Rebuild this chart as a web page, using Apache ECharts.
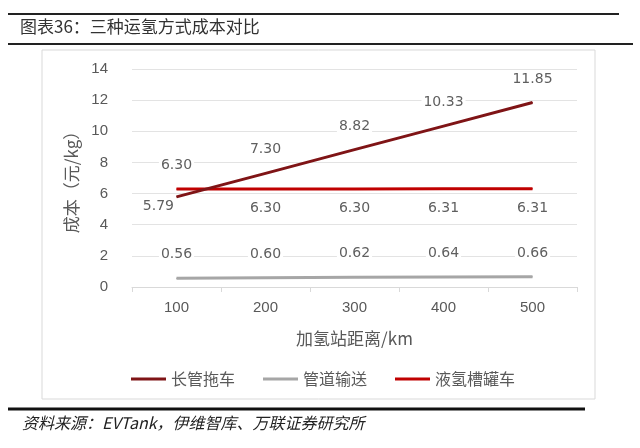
<!DOCTYPE html>
<html><head><meta charset="utf-8">
<script src="https://cdn.jsdelivr.net/npm/echarts@6/dist/echarts.min.js"></script>
<style>html,body{margin:0;padding:0;background:#fff}#c{width:640px;height:448px}</style>
</head><body><div id="c"></div>
<script>
const categories = ['100', '200', '300', '400', '500'];
const tubeTrailer = [5.79, 7.30, 8.82, 10.33, 11.85];
const pipeline = [0.56, 0.60, 0.62, 0.64, 0.66];
const liquidTanker = [6.30, 6.30, 6.30, 6.31, 6.31];
const seriesNames = ['长管拖车', '管道输送', '液氢槽罐车'];

const font = '"Noto Sans CJK SC", sans-serif';
const numFont = '"DejaVu Sans", sans-serif';
const axFont = '"Liberation Sans", Arial, sans-serif';
const lblBase = {show: true, color: '#5f5f5f', fontSize: 14, fontFamily: numFont,
  backgroundColor: '#fff', padding: [0, 2], formatter: p => p.value.toFixed(2)};

const chart = echarts.init(document.getElementById('c'));
chart.setOption({
  animation: false,
  grid: {left: 132, right: 63, top: 69, bottom: 161},
  graphic: [
    {type: 'line', shape: {x1: 8, y1: 14, x2: 619, y2: 14}, style: {stroke: '#222', lineWidth: 2}},
    {type: 'line', shape: {x1: 8, y1: 44, x2: 633, y2: 44}, style: {stroke: '#222', lineWidth: 2}},
    {type: 'text', left: 20, top: 18, style: {text: '图表36：三种运氢方式成本对比', fill: '#333', font: '17px ' + font}},
    {type: 'rect', shape: {x: 42, y: 50, width: 553, height: 349}, style: {fill: 'none', stroke: '#d9d9d9', lineWidth: 1}, z: -1},
    {type: 'line', shape: {x1: 8, y1: 409, x2: 585, y2: 409}, style: {stroke: '#111', lineWidth: 3}},
    {type: 'text', left: 22, top: 415, style: {text: '资料来源：EVTank，伊维智库、万联证券研究所', fill: '#222', font: 'italic 16px ' + font}}
  ],
  legend: {
    data: seriesNames, left: 126, top: 366, itemWidth: 35, itemHeight: 3, itemGap: 28,
    icon: 'rect', textStyle: {color: '#595959', fontSize: 16, fontFamily: font}
  },
  xAxis: {
    type: 'category', data: categories, boundaryGap: true,
    name: '加氢站距离/km', nameLocation: 'middle', nameGap: 43,
    nameTextStyle: {color: '#595959', fontSize: 17, fontFamily: font},
    axisLine: {lineStyle: {color: '#d9d9d9'}},
    axisTick: {show: true, lineStyle: {color: '#d9d9d9'}},
    axisLabel: {color: '#595959', fontSize: 15, margin: 13, fontFamily: axFont}
  },
  yAxis: {
    type: 'value', min: 0, max: 14, interval: 2,
    name: '成本（元/kg）', nameLocation: 'middle', nameGap: 47, nameRotate: 90,
    nameTextStyle: {color: '#595959', fontSize: 17, fontFamily: font},
    axisLine: {show: false}, axisTick: {show: false},
    splitLine: {lineStyle: {color: '#e3e3e3'}},
    axisLabel: {color: '#595959', fontSize: 15, margin: 24, fontFamily: axFont}
  },
  series: [
    {
      name: seriesNames[0], type: 'line', symbol: 'circle', symbolSize: 1,
      color: '#7f1416', lineStyle: {width: 3, color: '#7f1416'},
      label: Object.assign({}, lblBase, {position: 'top', distance: 16}),
      data: tubeTrailer.map((v, i) => i === 0 ? {value: v, label: {position: 'left', distance: 0, offset: [0, 10]}} : v),
      z: 3
    },
    {
      name: seriesNames[1], type: 'line', symbol: 'circle', symbolSize: 1,
      color: '#a6a6a6', lineStyle: {width: 3, color: '#a6a6a6'},
      label: Object.assign({}, lblBase, {position: 'top', distance: 16}),
      data: pipeline
    },
    {
      name: seriesNames[2], type: 'line', symbol: 'circle', symbolSize: 1,
      color: '#c00000', lineStyle: {width: 3, color: '#c00000'},
      label: Object.assign({}, lblBase, {position: 'bottom', distance: 12}),
      data: liquidTanker.map((v, i) => i === 0 ? {value: v, label: {position: 'top', distance: 16}} : v),
      z: 2
    }
  ]
});
</script></body></html>
